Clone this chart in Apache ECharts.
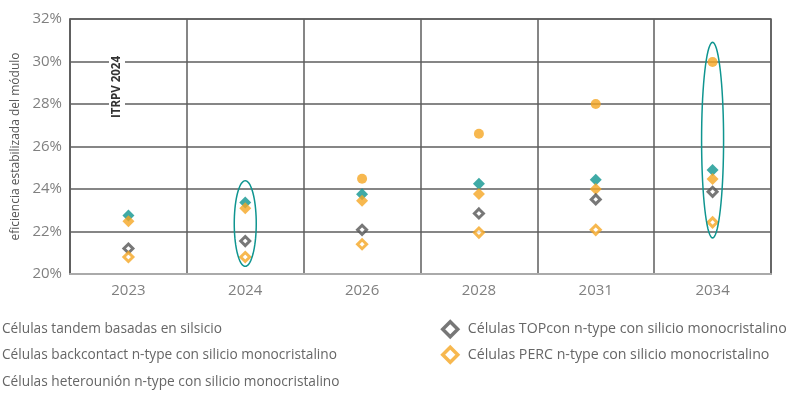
<!DOCTYPE html>
<html>
<head>
<meta charset="utf-8">
<script src="https://cdn.jsdelivr.net/npm/echarts@6/dist/echarts.min.js"></script>
<style>html,body{margin:0;padding:0;background:#fff}#c{width:798px;height:393px}</style>
</head>
<body>
<div id="c"></div>
<script>
var categories = ['2023', '2024', '2026', '2028', '2031', '2034'];
var yTicks = [20, 22, 24, 26, 28, 30, 32];
var tandem = [null, null, 24.48, 26.6, 28.0, 29.98];
var backcontact = [22.75, 23.37, 23.75, 24.25, 24.43, 24.9];
var heterounion = [22.48, 23.09, 23.45, 23.77, 24.0, 24.47];
var topcon = [21.2, 21.55, 22.08, 22.85, 23.51, 23.87];
var perc = [20.8, 20.8, 21.4, 21.95, 22.08, 22.43];
// highlighted ranges: [category, low, high]
var highlights = [['2024', 20.36, 24.39], ['2034', 21.7, 30.9]];

var names = [
  'Células tandem basadas en silsicio',
  'Células backcontact n-type con silicio monocristalino',
  'Células heterounión n-type con silicio monocristalino',
  'Células TOPcon n-type con silicio monocristalino',
  'Células PERC n-type con silicio monocristalino'
];
var TEAL = '#0f9590', ORANGE = '#f5a623', GRAY = '#555555';
var FONT = "'Open Sans', sans-serif";

var chart = echarts.init(document.getElementById('c'));
chart.setOption({
  animation: false,
  textStyle: { fontFamily: FONT },
  grid: { left: 70, right: 27, top: 19, bottom: 119, show: true, borderColor: '#5e5e5e', borderWidth: 1.5 },
  legend: [
    {
      data: names.slice(0, 3), orient: 'vertical', left: -17, top: 322, padding: 0,
      height: 90, width: 420,
      itemWidth: 14, itemHeight: 14, itemGap: 12.5,
      textStyle: { fontSize: 13.7, color: '#666', fontFamily: FONT }
    },
    {
      data: [
        { name: names[3], itemStyle: { borderWidth: 3.5 } },
        { name: names[4], itemStyle: { borderWidth: 3.5 } }
      ],
      orient: 'vertical', left: 441, top: 320, padding: 0,
      height: 90, width: 357,
      itemWidth: 15, itemHeight: 15, itemGap: 7,
      textStyle: { fontSize: 14.2, color: '#666', fontFamily: FONT, padding: [0, 0, 0, 5] }
    }
  ],
  xAxis: {
    type: 'category', data: categories, boundaryGap: true,
    axisLine: { lineStyle: { color: '#aaaaaa', width: 2 } },
    axisTick: { show: false },
    axisLabel: { fontSize: 15, color: '#808080', margin: 9 },
    splitLine: { show: true, lineStyle: { color: '#5e5e5e', width: 1.5 } }
  },
  yAxis: {
    type: 'value', min: 20, max: 32, interval: 2,
    name: 'eficiencia estabilizada del módulo', nameLocation: 'middle', nameGap: 42,
    nameTextStyle: { fontSize: 12, color: '#555' },
    axisLine: { show: true, lineStyle: { color: '#5e5e5e', width: 1.5 } },
    axisTick: { show: false },
    axisLabel: { fontSize: 15, color: '#808080', margin: 8, formatter: function (v) { return yTicks.indexOf(v) >= 0 ? v + '%' : ''; } },
    splitLine: { show: true, lineStyle: { color: '#5e5e5e', width: 1.5 } }
  },
  graphic: [{
    type: 'text', x: 117, y: 87, rotation: Math.PI / 2, z: 10,
    style: {
      text: 'ITRPV 2024', fontSize: 11.5, fontWeight: 'bold', fill: '#333',
      fontFamily: FONT, align: 'center', verticalAlign: 'middle',
      backgroundColor: '#fff', padding: [2, 3]
    }
  }],
  series: [
    { name: names[0], type: 'scatter', data: tandem, symbol: 'circle', symbolSize: 10,
      itemStyle: { color: ORANGE }, z: 3 },
    { name: names[1], type: 'scatter', data: backcontact, symbol: 'diamond', symbolSize: 12,
      itemStyle: { color: TEAL }, z: 3 },
    { name: names[2], type: 'scatter', data: heterounion, symbol: 'diamond', symbolSize: 12,
      itemStyle: { color: ORANGE }, z: 4 },
    { name: names[3], type: 'scatter', data: topcon, symbol: 'diamond', symbolSize: 9,
      itemStyle: { color: '#fff', borderColor: GRAY, borderWidth: 3 }, z: 4 },
    { name: names[4], type: 'scatter', data: perc, symbol: 'diamond', symbolSize: 9,
      itemStyle: { color: '#fff', borderColor: ORANGE, borderWidth: 3 }, z: 4 },
    {
      type: 'custom', silent: true, z: 5, data: highlights,
      encode: { x: 0, y: [1, 2] },
      renderItem: function (params, api) {
        var c = api.value(0);
        var top = api.coord([c, api.value(2)]);
        var bot = api.coord([c, api.value(1)]);
        var cx = top[0], cy = (top[1] + bot[1]) / 2, ry = (bot[1] - top[1]) / 2, rx = 11;
        var pts = [];
        for (var i = 0; i <= 72; i++) {
          var a = i / 72 * Math.PI * 2;
          pts.push([cx + rx * Math.cos(a), cy + ry * Math.sin(a)]);
        }
        return { type: 'polygon', shape: { points: pts }, style: { fill: 'none', stroke: TEAL, lineWidth: 1.5 } };
      }
    }
  ]
});
</script>
</body>
</html>
